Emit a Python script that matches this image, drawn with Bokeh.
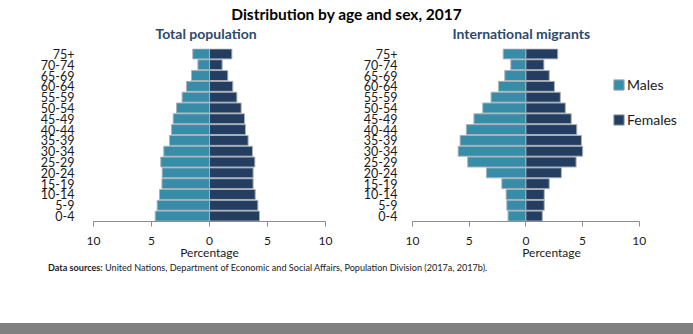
from bokeh.plotting import figure
from bokeh.models import FactorRange, Range1d, Div, Legend, LegendItem, FixedTicker, CustomJSTickFormatter, ColumnDataSource
from bokeh.layouts import column, row
from bokeh.embed import file_html
from bokeh.resources import INLINE

# ---- data (bottom to top) ----
age_groups = ["0-4", "5-9", "10-14", "15-19", "20-24", "25-29", "30-34", "35-39",
              "40-44", "45-49", "50-54", "55-59", "60-64", "65-69", "70-74", "75+"]
total_males = [4.68, 4.51, 4.31, 4.10, 4.08, 4.20, 3.94, 3.45, 3.28, 3.13, 2.84, 2.36, 1.98, 1.55, 1.00, 1.44]
total_females = [4.31, 4.17, 3.94, 3.76, 3.76, 3.91, 3.71, 3.33, 3.10, 3.02, 2.73, 2.36, 2.01, 1.58, 1.09, 1.93]
migrant_males = [1.57, 1.68, 1.74, 2.12, 3.48, 5.13, 5.97, 5.80, 5.25, 4.58, 3.80, 3.07, 2.41, 1.86, 1.33, 2.00]
migrant_females = [1.45, 1.62, 1.62, 2.06, 3.13, 4.43, 5.01, 4.90, 4.49, 4.00, 3.48, 3.04, 2.52, 2.06, 1.59, 2.81]
x_ticks = [-10, -5, 0, 5, 10]

MALE_COLOR = "#378da8"
FEMALE_COLOR = "#243e62"
OUTLINE = "#aab1b9"
FONT = "Lato"
SUB_COLOR = "#2d4a6d"


def pyramid(title, males, females, width, border_left, border_right, label_standoff, x_end, title_offset):
    p = figure(width=width, height=248, y_range=FactorRange(factors=age_groups, range_padding=0),
               x_range=Range1d(-10, x_end), output_backend="svg", toolbar_location=None,
               min_border_left=border_left, min_border_right=border_right,
               min_border_top=34, min_border_bottom=40)
    src = ColumnDataSource(dict(age=age_groups, m=[-v for v in males], f=females))
    rm = p.hbar(y="age", left="m", right=0, height=0.92, source=src,
                fill_color=MALE_COLOR, line_color=OUTLINE, line_width=1)
    rf = p.hbar(y="age", left=0, right="f", height=0.92, source=src,
                fill_color=FEMALE_COLOR, line_color=OUTLINE, line_width=1)
    p.border_fill_alpha = 0
    p.title.text = title
    p.title.align = "left"
    p.title.offset = title_offset
    p.title.text_font = FONT
    p.title.text_font_size = "14px"
    p.title.text_color = SUB_COLOR
    p.title.standoff = 14
    p.outline_line_color = None
    p.xgrid.visible = False
    p.ygrid.visible = False
    p.yaxis.axis_line_color = None
    p.yaxis.major_tick_line_color = None
    p.yaxis.minor_tick_line_color = None
    p.yaxis.major_label_standoff = label_standoff
    p.yaxis.major_label_text_font = FONT
    p.yaxis.major_label_text_font_size = "12.5px"
    p.yaxis.major_label_text_color = "#1a1a1a"
    p.xaxis.ticker = FixedTicker(ticks=x_ticks)
    p.xaxis.bounds = (x_ticks[0], x_ticks[-1])
    p.xaxis.formatter = CustomJSTickFormatter(code="return Math.abs(tick).toString();")
    p.xaxis.axis_line_color = "#8c8c8c"
    p.xaxis.major_tick_line_color = "#8c8c8c"
    p.xaxis.major_tick_in = 0
    p.xaxis.major_tick_out = 5
    p.xaxis.minor_tick_line_color = None
    p.xaxis.major_label_standoff = 10
    p.xaxis.major_label_text_font = FONT
    p.xaxis.major_label_text_font_size = "12px"
    p.xaxis.major_label_text_color = "#1a1a1a"
    p.xaxis.axis_label = "Percentage"
    p.xaxis.axis_label_standoff = -3
    p.xaxis.axis_label_text_font = FONT
    p.xaxis.axis_label_text_font_size = "12px"
    p.xaxis.axis_label_text_font_style = "normal"
    p.xaxis.axis_label_text_color = "#1a1a1a"
    return p, rm, rf


p1, _, _ = pyramid("Total population", total_males, total_females, 360, 93, 35, 13, 10, 62)
p2, rm2, rf2 = pyramid("International migrants", migrant_males, migrant_females, 333, 48, 3, 9, 14.52, 40)

legend = Legend(items=[LegendItem(label="Males", renderers=[rm2]),
                       LegendItem(label="Females", renderers=[rf2])],
                location=(200, 93), orientation="vertical",
                glyph_width=13, glyph_height=13, label_standoff=2, spacing=18,
                padding=0, margin=0, border_line_alpha=0, background_fill_alpha=0,
                label_text_font=FONT, label_text_font_size="14px", label_text_color="#1a1a1a",
                label_height=16)
p2.add_layout(legend, "center")

title_div = Div(text="Distribution by age and sex, 2017", width=693, height=14, margin=0,
                styles={"font-family": FONT, "font-weight": "bold", "font-size": "15.5px",
                        "text-align": "center", "line-height": "20px", "padding-top": "4px",
                        "overflow": "visible", "color": "#000"})
src_div = Div(text="<b>Data sources:</b> United Nations, Department of Economic and Social Affairs, "
                   "Population Division (2017a, 2017b).",
              width=693, height=61, margin=0,
              styles={"font-family": FONT, "font-size": "9.1px", "padding-left": "48px",
                      "line-height": "12px", "color": "#1a1a1a", "box-sizing": "border-box"})
bar_div = Div(text="", width=693, height=11, margin=0, styles={"background-color": "#808080"})

layout = column(title_div, row(p1, p2, spacing=0), src_div, bar_div, spacing=0)

open("out.html", "w").write(file_html(layout, INLINE))
